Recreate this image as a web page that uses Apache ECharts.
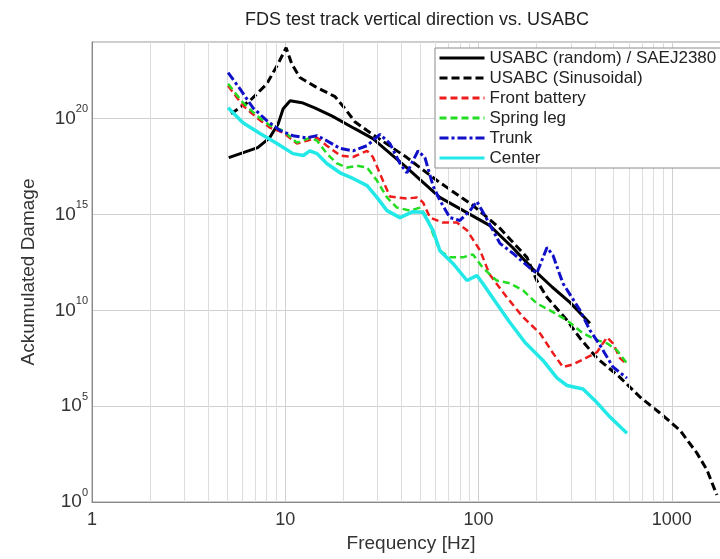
<!DOCTYPE html>
<html><head><meta charset="utf-8">
<script src="https://cdn.jsdelivr.net/npm/echarts@6/dist/echarts.min.js"></script>
<style>html,body{margin:0;padding:0;background:#fff}#c{width:720px;height:559px}</style>
</head><body><div id="c"></div>
<script>
const titleText = 'FDS test track vertical direction vs. USABC';
const xName = 'Frequency [Hz]';
const yName = 'Ackumulated Damage';
const seriesNames = ['USABC (random) / SAEJ2380', 'USABC (Sinusoidal)', 'Front battery', 'Spring leg', 'Trunk', 'Center'];
const xTickLabels = ['1', '10', '100', '1000'];
const yTickExps = [0, 5, 10, 15, 20];
const xMinorGrid = [2,3,4,5,6,7,8,9,20,30,40,50,60,70,80,90,200,300,400,500,600,700,800,900,2000];

const randomF = [5.1, 7.2, 8.3, 9.2, 9.75, 10.6, 12.2, 14.2, 17.4, 22.9, 28.4, 42.5, 63, 114, 150, 190, 241, 297, 377];
const randomD = [9.3e17, 3.1e18, 1.0e19, 5.5e19, 3.3e20, 8.7e20, 6.8e20, 3.7e20, 1.4e20, 3.0e19, 9.1e18, 2.8e17, 7.8e15, 2.7e14, 1.9e13, 1.5e12, 1.6e11, 2.6e10, 2.1e9];

const sineF = [5.24, 6.57, 8.03, 9.17, 10.1, 10.8, 11.9, 14.3, 18.1, 20.4, 22.9, 26.5, 42.6, 60.9, 93.5, 129, 178, 200, 226, 287, 335, 410, 539, 684, 868, 1101, 1349, 1520, 1710];
const sineD = [1.8e20, 8.7e20, 6.6e21, 7.2e22, 5.0e23, 7.2e22, 1.4e22, 4.7e21, 1.4e21, 3.3e20, 6.9e19, 2.4e19, 9.3e17, 5.9e16, 3.0e15, 1.9e14, 5.8e12, 3.6e11, 4.8e10, 3.0e9, 3.5e8, 3.2e7, 3.2e6, 3.0e5, 4.4e4, 5.6e3, 355, 47, 2.3];

const frontF = [5.06, 6.04, 7.14, 8.33, 9.73, 11.5, 12.9, 14.6, 16.4, 19.2, 22.4, 26.5, 28.4, 32.0, 34.8, 42.6, 48.0, 51.6, 56.1, 65.4, 77.3, 87.1, 102, 114, 140, 170, 208, 243, 273, 308, 364, 410, 462, 496, 539, 586];
const frontD = [5.2e21, 4.8e20, 1.1e20, 3.4e19, 1.9e19, 5.0e18, 7.1e18, 1.0e19, 3.9e18, 1.2e18, 1.0e18, 2.1e18, 1.0e18, 5.9e16, 8.7e15, 6.8e15, 7.8e15, 4.3e15, 6.9e14, 3.8e14, 3.8e14, 1.5e14, 1.3e13, 7.6e11, 4.8e10, 4.4e9, 6.3e8, 5.8e7, 1.1e7, 1.5e7, 3.5e7, 6.5e7, 3.9e8, 1.9e8, 3.2e7, 1.5e7];

const springF = [5.06, 6.04, 7.14, 8.33, 9.73, 11.5, 13.4, 14.6, 16.4, 18.5, 20.9, 23.5, 26.5, 29.8, 33.6, 37.8, 44.2, 49.8, 54.1, 58.1, 63.1, 71.1, 83.0, 93.5, 105, 124, 145, 170, 200, 234, 287, 347, 410, 462, 520, 586];
const springD = [6.6e21, 6.8e20, 1.4e20, 4.4e19, 2.4e19, 5.6e18, 1.0e19, 7.1e18, 1.5e18, 4.6e17, 2.8e17, 3.5e17, 2.8e17, 5.9e16, 7.8e15, 2.3e15, 1.6e15, 2.3e15, 6.9e14, 1.0e14, 1.3e13, 5.8e12, 5.8e12, 8.3e12, 1.7e12, 3.6e11, 2.6e11, 1.1e11, 2.3e10, 1.0e10, 3.0e9, 6.3e8, 2.8e8, 1.9e8, 8.3e7, 1.7e7];

const trunkF = [5.06, 5.83, 6.8, 8.03, 9.4, 10.96, 12.9, 14.6, 16.4, 19.2, 22.4, 26.5, 30.9, 34.8, 39.2, 42.6, 48.6, 52.8, 58.1, 63.1, 71.1, 80.1, 90.3, 98.1, 110, 129, 151, 178, 200, 226, 243, 273, 335, 377, 425, 496, 586];
const trunkD = [2.5e22, 3.6e21, 3.7e20, 7.9e19, 2.4e19, 1.3e19, 1.0e19, 1.3e19, 7.1e18, 2.8e18, 2.1e18, 3.9e18, 1.5e19, 5.0e18, 4.6e17, 1.5e17, 2.1e18, 9.3e17, 3.2e16, 5.4e15, 6.9e14, 4.9e14, 1.6e15, 4.8e15, 6.2e14, 3.1e13, 9.3e12, 2.2e12, 8.5e11, 1.9e13, 7.2e12, 2.6e11, 1.0e10, 9.1e8, 1.5e8, 1.1e7, 2.9e6];

const centerF = [5.06, 6.04, 7.4, 9.06, 10.96, 12.4, 13.4, 14.6, 16.4, 19.2, 22.4, 26.5, 29.8, 33.6, 39.2, 45.8, 51.6, 58.1, 63.1, 73.7, 87.1, 98.1, 105, 124, 145, 174, 215, 255, 287, 347, 400, 479, 586];
const centerD = [3.7e20, 6.2e19, 1.7e19, 5.0e18, 1.5e18, 1.2e18, 2.1e18, 1.5e18, 4.6e17, 1.5e17, 7.6e16, 3.2e16, 7.8e15, 1.6e15, 6.9e14, 1.4e15, 1.3e15, 1.5e14, 1.3e13, 2.8e12, 3.6e11, 6.6e11, 2.6e11, 2.3e10, 2.4e9, 2.1e8, 2.5e7, 2.9e6, 1.2e6, 7.8e5, 2.0e5, 2.7e4, 3.9e3];

const zip = (f, d) => f.map((v, i) => [v, d[i]]);
const FONT = '"Liberation Sans", Arial, sans-serif';

const styles = [
  { color: '#000000', width: 3, type: 'solid' },
  { color: '#000000', width: 3, type: [8, 4] },
  { color: '#ee1c1c', width: 2.5, type: [7, 4] },
  { color: '#22dd22', width: 2.5, type: [7, 4] },
  { color: '#1010c8', width: 3, type: [9, 3, 3, 3] },
  { color: '#22e8e8', width: 3.5, type: 'solid' }
];
const datas = [zip(randomF, randomD), zip(sineF, sineD), zip(frontF, frontD), zip(springF, springD), zip(trunkF, trunkD), zip(centerF, centerD)];

const series = [{
  type: 'line', name: '_grid', data: [], silent: true, z: 1,
  markLine: {
    silent: true, symbol: 'none', animation: false, label: { show: false },
    lineStyle: { color: '#dddddd', type: 'solid', width: 1 },
    data: xMinorGrid.map(v => ({ xAxis: v }))
  }
}];
seriesNames.forEach((n, i) => {
  series.push({
    type: 'line', name: n, data: datas[i], symbol: 'none', showSymbol: false,
    z: 3 + i, animation: false, color: styles[i].color,
    lineStyle: { color: styles[i].color, width: styles[i].width, type: styles[i].type }
  });
});

const chart = echarts.init(document.getElementById('c'), null, { renderer: 'canvas' });
chart.setOption({
  animation: false,
  backgroundColor: '#ffffff',
  textStyle: { fontFamily: FONT },
  title: {
    text: titleText, left: 412, top: 6, textAlign: 'center',
    textStyle: { fontFamily: FONT, fontSize: 18, fontWeight: 'normal', color: '#222' }
  },
  legend: {
    data: seriesNames, orient: 'vertical', left: 435, top: 48, z: 30,
    padding: [0, 20, 0, 3], itemGap: 0, itemWidth: 45, itemHeight: 14,
    itemStyle: { opacity: 0 },
    lineStyle: { width: 3 },
    backgroundColor: '#ffffff', borderColor: '#8a8a8a', borderWidth: 1,
    textStyle: { fontFamily: FONT, fontSize: 17, lineHeight: 20, color: '#222' }
  },
  grid: { left: 92, top: 42, right: -10, bottom: 57, show: true, borderColor: '#999', borderWidth: 1, outerBoundsMode: 'none' },
  xAxis: {
    type: 'log', logBase: 10, min: 1, max: 2000,
    name: xName, nameLocation: 'middle', nameGap: 32,
    nameTextStyle: { fontFamily: FONT, fontSize: 19, color: '#333' },
    axisLine: { show: true, lineStyle: { color: '#888' } },
    axisTick: { show: false },
    splitLine: { show: true, lineStyle: { color: '#d0d0d0', width: 1 } },
    axisLabel: {
      fontFamily: FONT, fontSize: 18, color: '#333', margin: 9,
      formatter: v => { const s = String(Math.round(v)); return xTickLabels.includes(s) && Math.abs(Math.log10(v) - Math.round(Math.log10(v))) < 1e-6 ? s : ''; }
    }
  },
  yAxis: {
    type: 'log', logBase: 10, min: 1, max: 1e24, interval: 5,
    name: yName, nameLocation: 'middle', nameGap: 54,
    nameTextStyle: { fontFamily: FONT, fontSize: 19, color: '#333' },
    axisLine: { show: true, lineStyle: { color: '#888' } },
    axisTick: { show: false },
    splitLine: { show: true, lineStyle: { color: '#d0d0d0', width: 1 } },
    axisLabel: {
      margin: 4, color: '#333',
      formatter: v => {
        const e = Math.round(Math.log10(v));
        if (Math.abs(Math.log10(v) - e) > 1e-6 || !yTickExps.includes(e)) return '';
        return '{b|10}{s|' + e + '}';
      },
      rich: {
        b: { fontFamily: FONT, fontSize: 19, lineHeight: 30, color: '#333' },
        s: { fontFamily: FONT, fontSize: 11, lineHeight: 11, verticalAlign: 'top', color: '#333' }
      }
    }
  },
  series: series
});
</script></body></html>
